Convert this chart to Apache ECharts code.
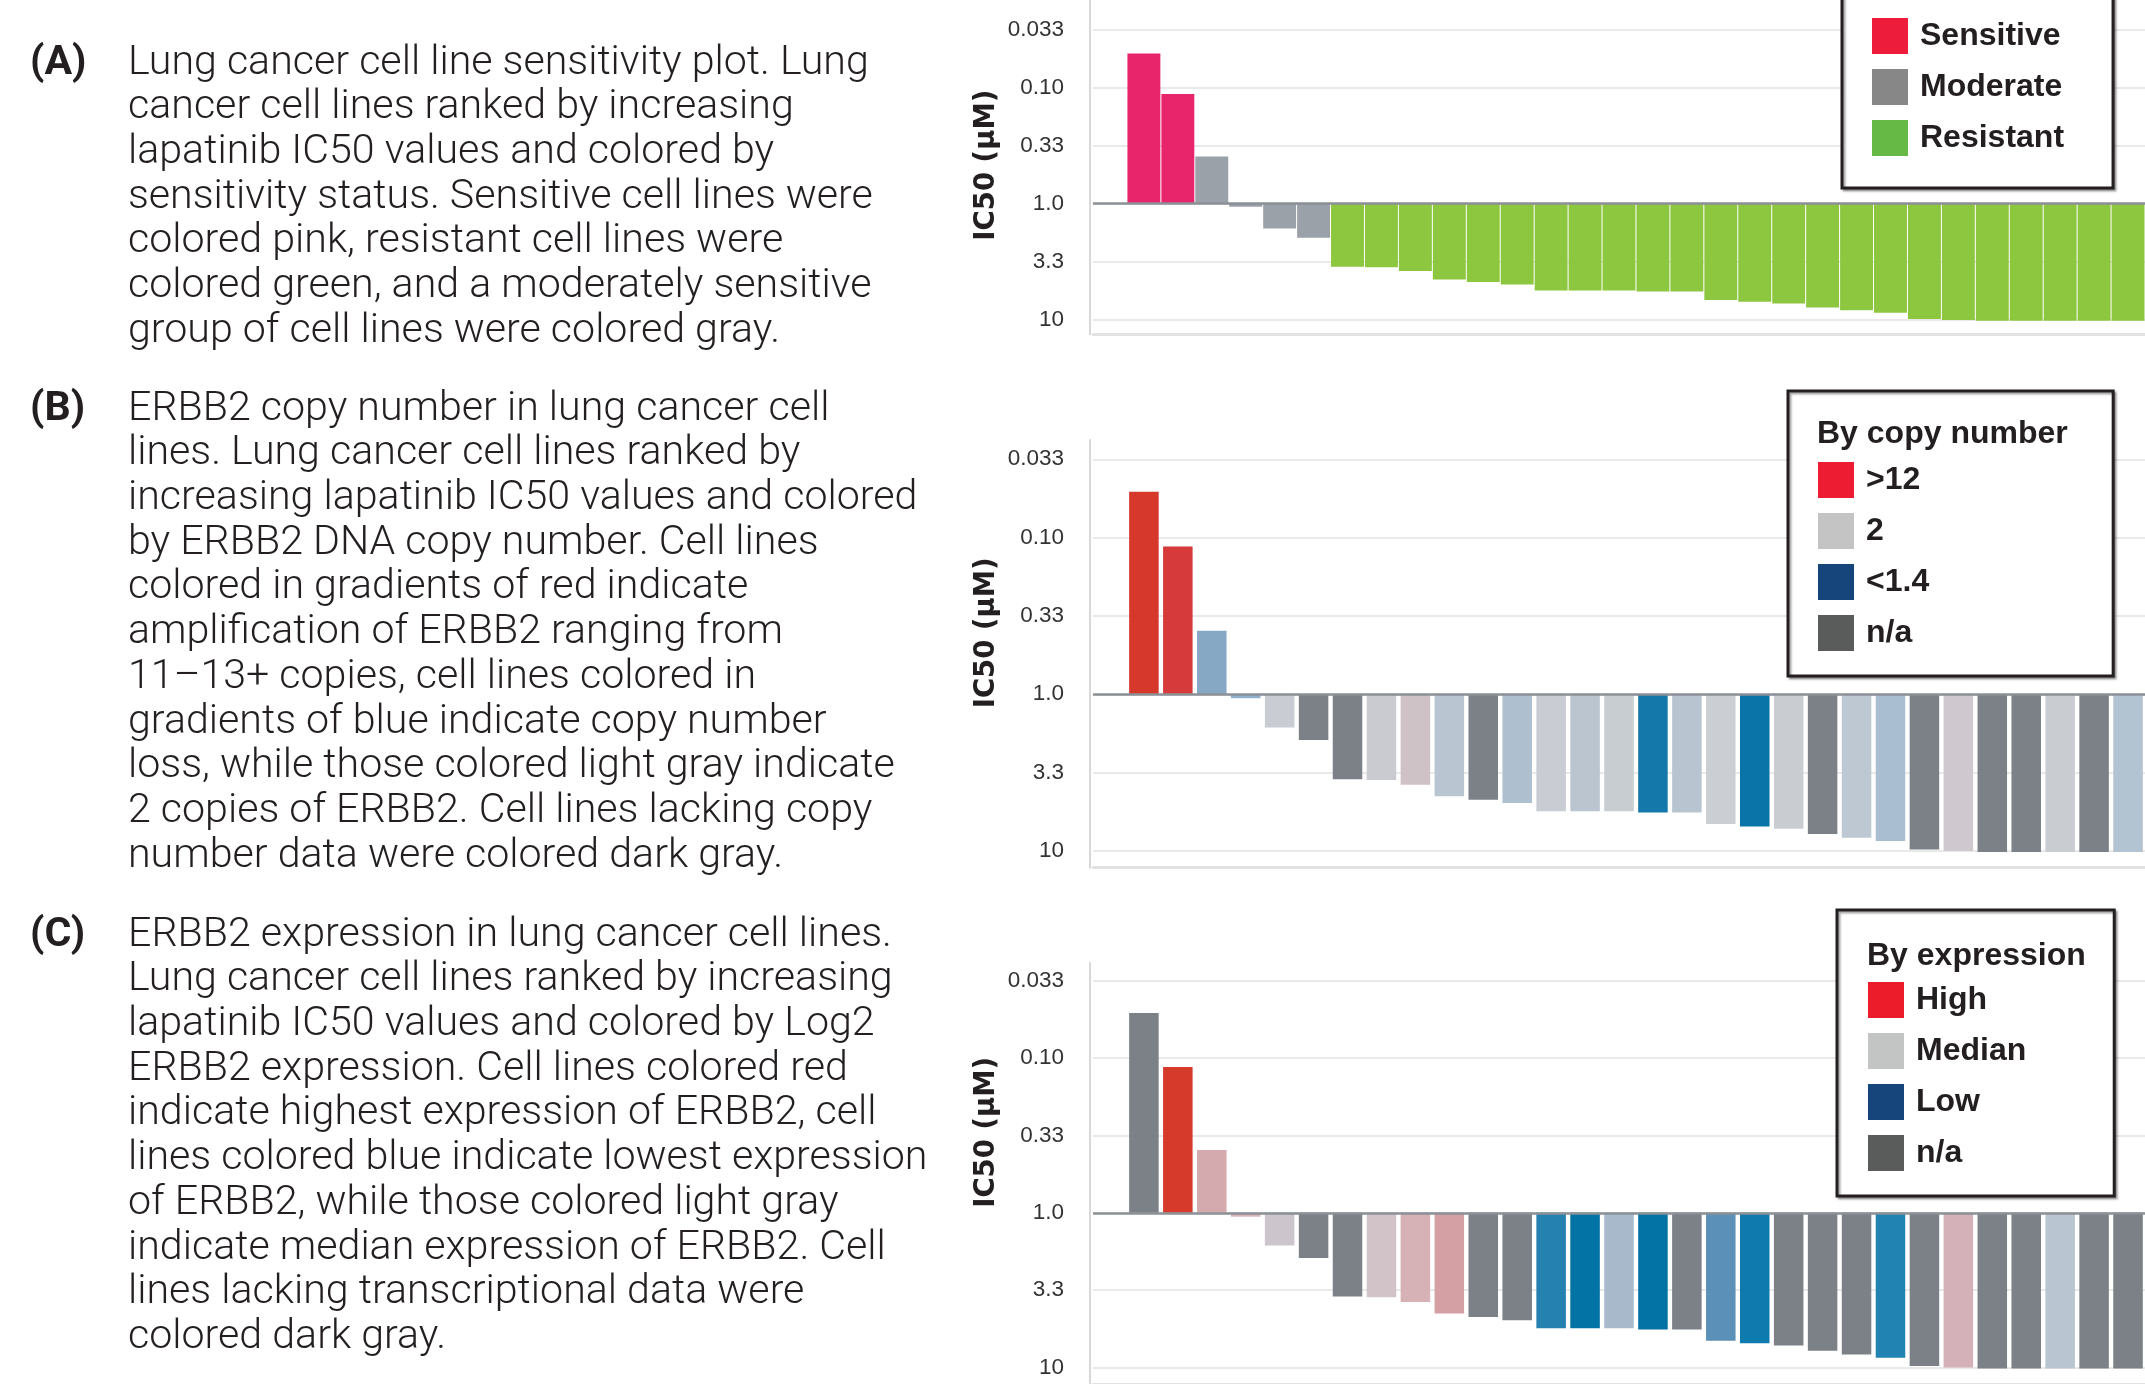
<!DOCTYPE html>
<html>
<head>
<meta charset="utf-8">
<script src="https://cdn.jsdelivr.net/npm/echarts@6/dist/echarts.min.js"></script>
<style>
  html, body { margin: 0; padding: 0; background: #fff; }
  #page { position: relative; width: 2145px; height: 1384px; overflow: hidden; }
  #chart { position: absolute; left: 0; top: 0; width: 2145px; height: 1384px; }
  .caption {
    position: absolute; left: 0; width: 950px;
    font-family: Roboto, "Liberation Sans", sans-serif; font-weight: 300;
    font-size: 40px; line-height: 44.7px; color: #231f20;
  }
  .caption .tag { position: absolute; left: 30px; top: 0; font-weight: 700; }
  .caption .body { position: absolute; left: 128px; top: 0; white-space: nowrap; }
</style>
</head>
<body>
<div id="page">
  <div id="chart"></div>
  <div class="caption" style="top:37.6px">
    <div class="tag">(A)</div>
    <div class="body" id="firstLine">Lung cancer cell line sensitivity plot. Lung<br>cancer cell lines ranked by increasing<br>lapatinib IC50 values and colored by<br>sensitivity status. Sensitive cell lines were<br>colored pink, resistant cell lines were<br>colored green, and a moderately sensitive<br>group of cell lines were colored gray.</div>
  </div>
  <div class="caption" style="top:383.6px">
    <div class="tag">(B)</div>
    <div class="body">ERBB2 copy number in lung cancer cell<br>lines. Lung cancer cell lines ranked by<br>increasing lapatinib IC50 values and colored<br>by ERBB2 DNA copy number. Cell lines<br>colored in gradients of red indicate<br>amplification of ERBB2 ranging from<br>11–13+ copies, cell lines colored in<br>gradients of blue indicate copy number<br>loss, while those colored light gray indicate<br>2 copies of ERBB2. Cell lines lacking copy<br>number data were colored dark gray.</div>
  </div>
  <div class="caption" style="top:909.6px">
    <div class="tag">(C)</div>
    <div class="body">ERBB2 expression in lung cancer cell lines.<br>Lung cancer cell lines ranked by increasing<br>lapatinib IC50 values and colored by Log2<br>ERBB2 expression. Cell lines colored red<br>indicate highest expression of ERBB2, cell<br>lines colored blue indicate lowest expression<br>of ERBB2, while those colored light gray<br>indicate median expression of ERBB2. Cell<br>lines lacking transcriptional data were<br>colored dark gray.</div>
  </div>
</div>
<script>
// cell lines ranked by increasing lapatinib IC50 (first slot left empty)
const ranks = ['', '1', '2', '3', '4', '5', '6', '7', '8', '9', '10',
  '11', '12', '13', '14', '15', '16', '17', '18', '19', '20',
  '21', '22', '23', '24', '25', '26', '27', '28', '29', '30'];

// IC50 (µM)
const ic50 = [0.051, 0.114, 0.393, 1.06, 1.63, 1.96, 3.48, 3.52, 3.78, 4.48,
  4.72, 4.95, 5.57, 5.57, 5.57, 5.68, 5.68, 6.73, 6.98, 7.22,
  7.8, 8.25, 8.64, 9.8, 10.0, 10.15, 10.15, 10.15, 10.15, 10.15];

// panel A status
const sensitivity = ['Sensitive', 'Sensitive', 'Moderate', 'Moderate', 'Moderate', 'Moderate',
  'Resistant', 'Resistant', 'Resistant', 'Resistant', 'Resistant', 'Resistant',
  'Resistant', 'Resistant', 'Resistant', 'Resistant', 'Resistant', 'Resistant',
  'Resistant', 'Resistant', 'Resistant', 'Resistant', 'Resistant', 'Resistant',
  'Resistant', 'Resistant', 'Resistant', 'Resistant', 'Resistant', 'Resistant'];

// panel B / C bar shades (copy number and expression gradients)
const copyColors = ['#d6392b', '#d63a3a', '#86a8c5', '#8fb0cc', '#c9ccd2', '#7b8187',
  '#7b8187', '#c9cbd0', '#cfc2c7', '#b9c6d1', '#7b8187', '#aebfcf',
  '#c9ccd2', '#bac5cf', '#c8cdd2', '#1479aa', '#b8c4d0', '#cbcfd4',
  '#0a73a7', '#c9cdd2', '#7b8187', '#bdc8d3', '#a9bed0', '#7b8187',
  '#cfc8ce', '#7b8187', '#7b8187', '#c9cdd2', '#7b8187', '#b2c3d2'];
const exprColors = ['#7b8187', '#d63a2a', '#d4aaae', '#d9b5ba', '#ccc6cc', '#7b8187',
  '#7b8187', '#d1c3c7', '#d6b2b7', '#d4a0a4', '#7b8187', '#7b8187',
  '#2582b0', '#0373a6', '#a7b9cb', '#0373a6', '#7b8187', '#5b91b9',
  '#0f7aae', '#7b8187', '#7b8187', '#7b8187', '#2183b1', '#7b8187',
  '#d4b1b8', '#7b8187', '#7b8187', '#b9c5d0', '#7b8187', '#7b8187'];

// y ticks at half decades
const tickValues = [0.031623, 0.1, 0.31623, 1, 3.1623, 10];
const tickLabels = ['0.033', '0.10', '0.33', '1.0', '3.3', '10'];

const legendA = ['Sensitive', 'Moderate', 'Resistant'];
const legendB = ['>12', '2', '<1.4', 'n/a'];
const legendC = ['High', 'Median', 'Low', 'n/a'];

// fit caption font to the reference width of the first line
(function fitCaptions() {
  const el = document.getElementById('firstLine');
  const probe = document.createElement('span');
  probe.style.whiteSpace = 'nowrap';
  probe.textContent = 'Lung cancer cell line sensitivity plot. Lung';
  el.parentNode.appendChild(probe);
  const w = probe.getBoundingClientRect().width;
  probe.remove();
  const size = 40 * 741 / w;
  document.querySelectorAll('.caption').forEach(c => { c.style.fontSize = size + 'px'; });
})();

const statusColors = { Sensitive: '#e8246a', Moderate: '#9ba1a9', Resistant: '#8dc63f' };
const legendColors = {
  'Sensitive': '#ed1c3a', 'Moderate': '#878787', 'Resistant': '#67b946',
  '>12': '#ed1c33', '2': '#c4c4c4', '<1.4': '#15457a', 'n/a': '#5a5c5c',
  'High': '#ec1c2a', 'Median': '#c3c4c4', 'Low': '#15457a'
};

const chart = echarts.init(document.getElementById('chart'));

const boldFont = '"Liberation Sans", Arial, sans-serif';
const panels = [
  { top: 0, height: 334.3, min: 0.0177, max: 13.27, shift: 2, gap: '3%',
    colors: sensitivity.map(s => statusColors[s]) },
  { top: 440, height: 427.7, min: 0.02382, max: 12.79, shift: 21, gap: '13%', colors: copyColors },
  { top: 962.7, height: 426.3, min: 0.02415, max: 12.79, shift: 41, gap: '13%', colors: exprColors }
];

function tickLabel(v) {
  const i = tickValues.findIndex(t => Math.abs(t - v) / t < 1e-3);
  return i >= 0 ? tickLabels[i] : '';
}

const grid = panels.map(p => ({ left: 1093, top: p.top, width: 1066.4, height: p.height }));
const xAxis = panels.map((p, i) => ({
  type: 'category', gridIndex: i, data: ranks,
  axisLine: { show: true, onZero: false, lineStyle: { color: '#e2e2e2', width: 3 } },
  axisTick: { show: false }, axisLabel: { show: false }
}));
const yAxis = panels.map((p, i) => ({
  type: 'log', gridIndex: i, inverse: true, min: p.min, max: p.max, offset: 3,
  axisLine: { show: true, lineStyle: { color: '#d8d8d8', width: 2 } },
  axisTick: { show: false, customValues: tickValues },
  axisLabel: {
    customValues: tickValues, margin: 26, color: '#333', fontSize: 22.5,
    fontFamily: '"Liberation Sans", Arial, sans-serif', formatter: tickLabel
  },
  splitLine: { show: true, lineStyle: { color: '#e9e9e9', width: 2 } },
  name: 'IC50 (µM)', nameLocation: 'middle', nameRotate: 90, nameGap: 89,
  nameTextStyle: {
    fontFamily: '"DejaVu Sans", sans-serif', fontWeight: 'bold', fontSize: 27.5,
    color: '#231f20', padding: [0, 0, 0, p.shift * 2]
  }
}));

const series = panels.map((p, i) => ({
  type: 'bar', xAxisIndex: i, yAxisIndex: i, barCategoryGap: p.gap,
  silent: true,
  data: [null].concat(ic50.map((v, k) => ({ value: v, itemStyle: { color: p.colors[k] } }))),
  markLine: {
    silent: true, symbol: 'none', label: { show: false },
    lineStyle: { color: '#8b9096', width: 2.5, type: 'solid' },
    data: [{ yAxis: 1 }]
  }
}));
// legend entries
Object.keys(legendColors).forEach(name => {
  series.push({ type: 'scatter', name, xAxisIndex: 0, yAxisIndex: 0, data: [],
    itemStyle: { color: legendColors[name], opacity: 1 } });
});

const legendBase = {
  orient: 'vertical', icon: 'rect', itemWidth: 36, itemHeight: 36, itemGap: 15,
  selectedMode: false, borderColor: '#231f20', borderWidth: 3, backgroundColor: '#fff',
  shadowColor: 'rgba(0,0,0,0.35)', shadowBlur: 2, shadowOffsetX: 2, shadowOffsetY: 2,
  itemStyle: { opacity: 1 },
  textStyle: { fontFamily: boldFont, fontWeight: 'bold', fontSize: 32, lineHeight: 36,
    color: '#231f20', padding: [0, 0, 0, 7] }
};
const titleText = { fontFamily: boldFont, fontWeight: 'bold', fontSize: 32, lineHeight: 32, color: '#231f20' };

chart.setOption({
  animation: false,
  grid, xAxis, yAxis, series,
  legend: [
    Object.assign({}, legendBase, { data: legendA, left: 1842, top: -17, padding: [35, 49, 32, 30] }),
    Object.assign({}, legendBase, { data: legendB, left: 1788, top: 391, padding: [71, 184, 25, 30] }),
    Object.assign({}, legendBase, { data: legendC, left: 1837, top: 910, padding: [72, 88, 25, 31] })
  ],
  title: [
    { text: 'By copy number', left: 1817, top: 418, padding: 0, textStyle: titleText },
    { text: 'By expression', left: 1867, top: 940, padding: 0, textStyle: titleText }
  ]
});
</script>
</body>
</html>
